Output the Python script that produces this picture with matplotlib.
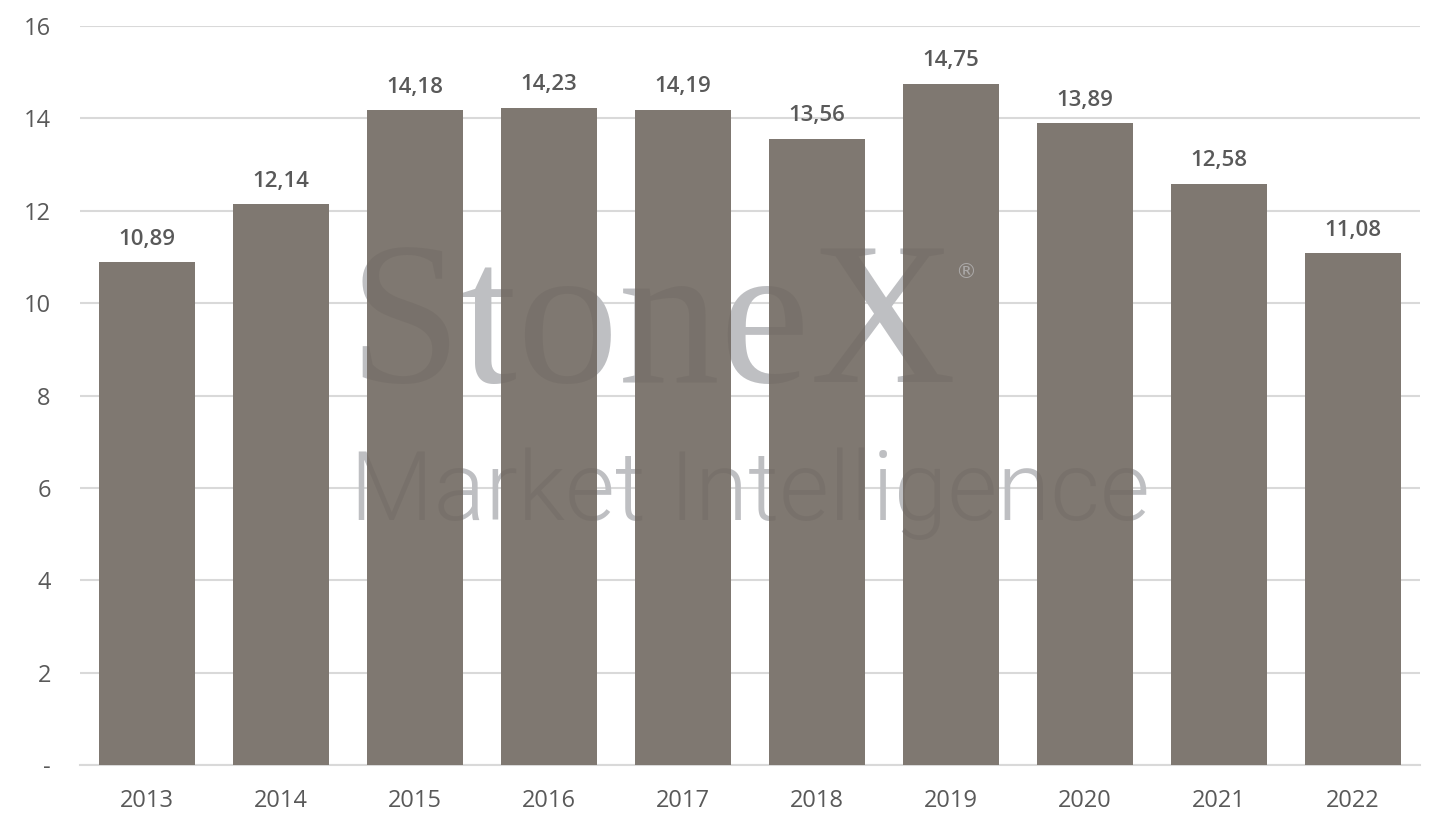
import numpy as np
import matplotlib.pyplot as plt

years = ['2013', '2014', '2015', '2016', '2017', '2018', '2019', '2020', '2021', '2022']
values = [10.89, 12.14, 14.18, 14.23, 14.19, 13.56, 14.75, 13.89, 12.58, 11.08]
yticks = [0, 2, 4, 6, 8, 10, 12, 14, 16]
ytick_labels = ['-', '2', '4', '6', '8', '10', '12', '14', '16']

bar_color = '#7f7871'
text_color = '#595959'
grid_color = '#d9d9d9'

plt.rcParams['font.family'] = ['Open Sans', 'DejaVu Sans']

fig = plt.figure(figsize=(14.44, 8.27), dpi=100)
ax = fig.add_axes([80/1444, 1-765/827, 1340/1444, (765-26)/827])

x = np.arange(len(years))
ax.bar(x, values, width=0.72, color=bar_color, zorder=3)

for xi, v in zip(x, values):
    ax.annotate(('%.2f' % v).replace('.', ','), (xi, v), xytext=(0, 9),
                textcoords='offset points', ha='center', va='bottom',
                fontsize=16, fontweight='semibold', color=text_color, zorder=5)

ax.set_xlim(-0.5, len(years) - 0.5)
ax.set_ylim(0, 16)
ax.set_yticks(yticks)
ax.set_yticklabels(ytick_labels)
ax.set_xticks(x)
ax.set_xticklabels(years)
ax.tick_params(axis='both', length=0, labelsize=17, colors=text_color)
ax.tick_params(axis='y', pad=21)
ax.tick_params(axis='x', pad=17)

ax.grid(axis='y', color=grid_color, linewidth=1.5, zorder=0)
ax.set_axisbelow(True)
for s in ['top', 'right', 'left']:
    ax.spines[s].set_visible(False)
ax.spines['bottom'].set_color(grid_color)
ax.spines['bottom'].set_linewidth(1.5)

# watermark: light grey behind the bars, faint dark over them
tf = fig.transFigure
for z, col, a in [(1, '#c9cacd', 1.0), (4, '#000000', 0.05)]:
    ax.text(348/1444, 1-382/827, 'StoneX', family='Liberation Serif',
            fontsize=146, color=col, alpha=a, zorder=z, ha='left',
            va='baseline', transform=tf, clip_on=False)
    ax.text(350/1444, 1-520/827, 'Market Intelligence', family='Roboto',
            fontweight=300, fontsize=69.5, color=col, alpha=a, zorder=z,
            ha='left', va='baseline', transform=tf, clip_on=False)
ax.text(955/1444, 1-278/827, '®', family='DejaVu Sans',
        fontsize=15, color='#c9cacd', alpha=0.6, zorder=4, transform=tf)

fig.savefig('out.png', dpi=100)
